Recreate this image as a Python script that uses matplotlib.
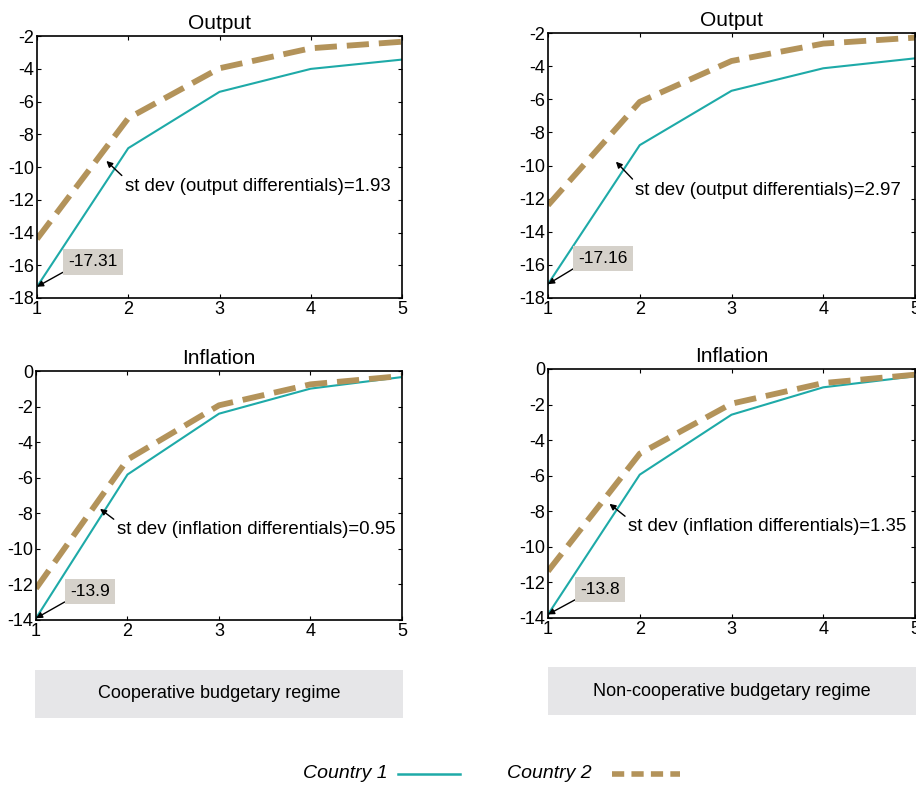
"""Réponses de la production et de l'inflation : régimes coopératif et non coopératif."""
import matplotlib
matplotlib.use("Agg")
import matplotlib.pyplot as plt
from matplotlib.patches import Rectangle
from matplotlib.lines import Line2D

plt.rcParams["font.family"] = ["Liberation Sans", "DejaVu Sans"]
plt.rcParams["axes.unicode_minus"] = False

periodes = [1, 2, 3, 4, 5]

# Output, régime coopératif
out_coop_c1 = [-17.31, -8.85, -5.41, -4.01, -3.44]
out_coop_c2 = [-14.4, -7.02, -3.97, -2.75, -2.35]
# Output, régime non coopératif
out_ncoop_c1 = [-17.16, -8.77, -5.49, -4.13, -3.53]
out_ncoop_c2 = [-12.4, -6.16, -3.69, -2.64, -2.28]
# Inflation, régime coopératif
inf_coop_c1 = [-13.9, -5.82, -2.40, -0.99, -0.34]
inf_coop_c2 = [-12.23, -4.98, -1.93, -0.75, -0.28]
# Inflation, régime non coopératif
inf_ncoop_c1 = [-13.8, -5.94, -2.57, -1.03, -0.41]
inf_ncoop_c2 = [-11.37, -4.76, -1.95, -0.79, -0.32]

titres = ["Output", "Output", "Inflation", "Inflation"]
notes = ["st dev (output differentials)=1.93",
         "st dev (output differentials)=2.97",
         "st dev (inflation differentials)=0.95",
         "st dev (inflation differentials)=1.35"]
chocs = ["-17.31", "-17.16", "-13.9", "-13.8"]
regimes = ["Cooperative budgetary regime", "Non-cooperative budgetary regime"]

TEAL = "#1eaaa8"
TAN = "#b3935a"

W, H = 916, 786
fig = plt.figure(figsize=(W / 100, H / 100), dpi=100)


def px_axes(x0, y0, x1, y1):
    return fig.add_axes([x0 / W, 1 - y1 / H, (x1 - x0) / W, (y1 - y0) / H])


panneaux = [
    (px_axes(37, 36, 402, 298), out_coop_c1, out_coop_c2, (-18, -2),
     (1.76, -9.63), (1.96, -11.2), (1.34, -15.8)),
    (px_axes(548, 33, 915, 298), out_ncoop_c1, out_ncoop_c2, (-18, -2),
     (1.74, -9.77), (1.95, -11.5), (1.33, -15.6)),
    (px_axes(36, 371, 402, 620), inf_coop_c1, inf_coop_c2, (-14, 0),
     (1.70, -7.75), (1.88, -8.93), (1.37, -12.4)),
    (px_axes(548, 369, 915, 618), inf_ncoop_c1, inf_ncoop_c2, (-14, 0),
     (1.67, -7.58), (1.87, -8.88), (1.35, -12.4)),
]

for i, (ax, c1, c2, ylim, pointe, texte, boite) in enumerate(panneaux):
    ax.plot(periodes, c1, color=TEAL, linewidth=1.5)
    ax.plot(periodes, c2, color=TAN, linewidth=4.2, linestyle=(0, (3.8, 1.7)))
    ax.set_xlim(1, 5)
    ax.set_ylim(*ylim)
    ax.set_xticks(periodes)
    ax.set_yticks(range(ylim[0], ylim[1] + 1, 2))
    ax.tick_params(direction="in", top=True, right=True, length=3,
                   labelsize=13, pad=2)
    for s in ax.spines.values():
        s.set_linewidth(1.2)
    ax.set_title(titres[i], fontsize=15, pad=5)

    ax.annotate(notes[i], xy=pointe, xytext=texte, fontsize=13.4,
                ha="left", va="center",
                arrowprops=dict(arrowstyle="-|>", color="black", lw=1,
                                mutation_scale=9, relpos=(0, 1),
                                shrinkA=0, shrinkB=0))
    ax.annotate(chocs[i], xy=(1, c1[0]), xytext=boite, fontsize=12.5,
                ha="left", va="center",
                bbox=dict(boxstyle="square,pad=0.3", fc="#d5d1ca", ec="none"),
                arrowprops=dict(arrowstyle="-|>", color="black", lw=1,
                                mutation_scale=9, relpos=(0, 0),
                                shrinkA=0, shrinkB=0))

# Encadrés des régimes
for (x0, y0, x1, y1), label in zip([(35, 670, 403, 718), (548, 667, 916, 715)], regimes):
    fig.patches.append(Rectangle((x0 / W, 1 - y1 / H), (x1 - x0) / W, (y1 - y0) / H,
                                 transform=fig.transFigure, fc="#e6e6e8", ec="none"))
    fig.text((x0 + x1) / 2 / W, 1 - (y0 + y1) / 2 / H, label, fontsize=13,
             ha="center", va="center")

# Légende manuelle
fig.text(388 / W, 1 - 773 / H, "Country 1", fontsize=14, style="italic",
         ha="right", va="center")
fig.add_artist(Line2D([398 / W, 460 / W], [1 - 774 / H] * 2, color=TEAL, linewidth=1.8,
                      transform=fig.transFigure))
fig.text(592 / W, 1 - 773 / H, "Country 2", fontsize=14, style="italic",
         ha="right", va="center")
fig.add_artist(Line2D([612 / W, 680 / W], [1 - 774 / H] * 2, color=TAN, linewidth=4,
                      linestyle=(0, (2.2, 1.3)), transform=fig.transFigure))

plt.savefig("out.png", dpi=100)
plt.close()
